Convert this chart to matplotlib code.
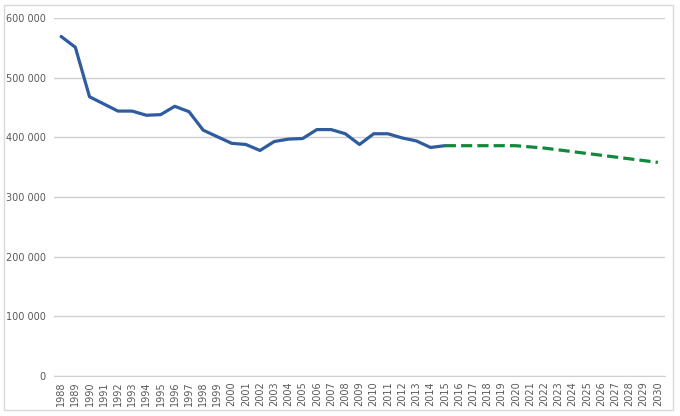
import matplotlib.pyplot as plt
from matplotlib.patches import Rectangle
from matplotlib.ticker import FuncFormatter

years = list(range(1988, 2031))

# observed series, 1988-2015
actual = [569000, 551000, 468000, 456000, 444000, 444000, 437000, 438000,
          452000, 443000, 412000, 401000, 390000, 388000, 378000, 393000,
          397000, 398000, 413000, 413000, 406000, 388000, 406000, 406000,
          399000, 394000, 383000, 386000]

# projection, 2015-2030
forecast = [386000, 386000, 386000, 386000, 386000, 386000, 384000, 382000,
            379000, 376000, 373000, 370000, 367000, 364000, 361000, 358000]

x_actual = list(range(len(actual)))
x_forecast = list(range(len(actual) - 1, len(years)))

fig = plt.figure(figsize=(6.8, 4.16), dpi=100)
ax = fig.add_axes([54 / 680, 1 - 376 / 416, 611 / 680, 358 / 416])

ax.plot(x_actual, actual, color='#2E5C9E', linewidth=2.3,
        solid_capstyle='round', solid_joinstyle='round', zorder=3)
ax.plot(x_forecast, forecast, color='#12893A', linewidth=2.3,
        dashes=(3.5, 1.6), zorder=3)

ax.set_xlim(-0.5, len(years) - 0.5)
ax.set_ylim(0, 600000)
ax.set_yticks(range(0, 600001, 100000))
ax.yaxis.set_major_formatter(
    FuncFormatter(lambda v, p: f'{int(v):,}'.replace(',', ' ')))
ax.set_xticks(range(len(years)))
ax.set_xticklabels([str(y) for y in years], rotation=90)

ax.grid(axis='y', color='#D0D0D0', linewidth=1)
ax.set_axisbelow(True)
for side in ['top', 'right', 'left']:
    ax.spines[side].set_visible(False)
ax.spines['bottom'].set_color('#D0D0D0')
ax.tick_params(axis='both', length=0, labelsize=7, labelcolor='#595959')
ax.tick_params(axis='y', pad=6)
ax.tick_params(axis='x', pad=4)

fig.patches.append(Rectangle((4 / 680, 6 / 416), 669 / 680, 405 / 416,
                             transform=fig.transFigure, fill=False,
                             edgecolor='#D9D9D9', linewidth=1))

fig.savefig('out.png', dpi=100)
